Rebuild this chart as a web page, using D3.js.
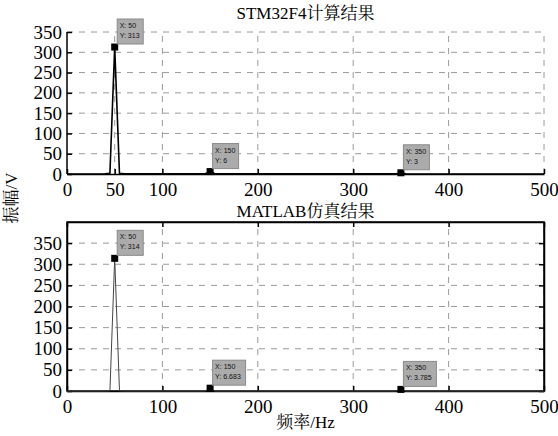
<!DOCTYPE html>
<html><head><meta charset="utf-8">
<script src="https://cdn.jsdelivr.net/npm/d3@7"></script>
<style>
body{margin:0;background:#fff;}
svg{display:block;}
</style></head>
<body>
<svg id="c" width="558" height="436"></svg>
<script>
// ---- data ----
const freqs = [0, 40, 45, 50, 55, 60, 145, 150, 155, 345, 350, 355, 500];
const ampSTM = [0, 0.5, 2, 313, 2, 0.5, 0.5, 6, 0.5, 0.5, 3, 0.5, 0];
const ampMATLAB = [0, 0, 0.5, 314, 0.5, 0, 0, 6.683, 0, 0, 3.785, 0, 0];
const tipsSTM = [{x:50,y:313,label:"313"},{x:150,y:6,label:"6"},{x:350,y:3,label:"3"}];
const tipsMATLAB = [{x:50,y:314,label:"314"},{x:150,y:6.683,label:"6.683"},{x:350,y:3.785,label:"3.785"}];
const xTicksTop = [0, 50, 100, 200, 300, 400, 500];
const xTicksBottom = [0, 100, 200, 300, 400, 500];
const yTicks = [0, 50, 100, 150, 200, 250, 300, 350];
const titles = ["STM32F4计算结果", "MATLAB仿真结果"];
const xLabel = "频率/Hz";
const yLabel = "振幅/V";

const svg = d3.select("#c");
const serif = "'Liberation Serif','Times New Roman','Noto Serif CJK SC','Noto Sans CJK SC',serif";
const L = 67, R = 544;

function panel(cfg){
  const x = d3.scaleLinear().domain([0,500]).range([L,R]);
  const y = d3.scaleLinear().domain([0,cfg.ymax]).range([cfg.bottom,cfg.top]);
  const g = svg.append("g");
  // grid
  g.append("g").selectAll("line").data(cfg.xTicks.filter(d=>d>0)).join("line")
    .attr("x1",d=>x(d)).attr("x2",d=>x(d)).attr("y1",cfg.bottom).attr("y2",cfg.top)
    .attr("stroke","#9a9a9a").attr("stroke-width",1).attr("stroke-dasharray","6,6");
  g.append("g").selectAll("line").data(yTicks.filter(d=>d>0)).join("line")
    .attr("x1",L).attr("x2",R).attr("y1",d=>y(d)).attr("y2",d=>y(d))
    .attr("stroke","#9a9a9a").attr("stroke-width",1).attr("stroke-dasharray","6,6");
  // axes
  const ax = g.append("g").attr("transform",`translate(0,${cfg.bottom})`)
    .call(d3.axisBottom(x).tickValues(cfg.xTicks).tickSize(-5).tickPadding(9).tickSizeOuter(0));
  const ay = g.append("g").attr("transform",`translate(${L},0)`)
    .call(d3.axisLeft(y).tickValues(yTicks).tickSize(-5).tickPadding(5).tickSizeOuter(0));
  if(cfg.box){
    g.append("g").attr("transform",`translate(0,${cfg.top})`)
      .call(d3.axisTop(x).tickValues(cfg.xTicks).tickSize(-5).tickFormat("").tickSizeOuter(0));
    g.append("g").attr("transform",`translate(${R},0)`)
      .call(d3.axisRight(y).tickValues(yTicks).tickSize(-5).tickFormat("").tickSizeOuter(0));
    g.append("rect").attr("x",L).attr("y",cfg.top).attr("width",R-L).attr("height",cfg.bottom-cfg.top)
      .attr("fill","none").attr("stroke","#000").attr("stroke-width",1.5);
  } else {
    ay.select(".domain").attr("d",`M0,${cfg.bottom}V${cfg.top}`);
  }
  g.selectAll(".domain").attr("stroke","#000").attr("stroke-width",1.5);
  g.selectAll(".tick line").attr("stroke","#000").attr("stroke-width",1.5);
  g.selectAll(".tick text").attr("font-family",serif).attr("font-size",19).attr("fill","#000");
  // line
  const line = d3.line().x((d,i)=>x(freqs[i])).y(d=>y(d));
  g.append("path").datum(cfg.amps).attr("d",line).attr("fill","none")
    .attr("stroke",cfg.lineColor).attr("stroke-width",cfg.lineWidth).attr("stroke-linejoin","round");
  // markers and tips
  const tg = g.append("g").selectAll("g").data(cfg.tips).join("g")
    .attr("transform",d=>`translate(${x(d.x)},${y(d.y)})`);
  tg.append("rect").attr("x",-3.5).attr("y",-3.5).attr("width",7).attr("height",7).attr("fill","#000");
  tg.each(function(d){
    const s = d3.select(this);
    const t1 = "X: "+d.x, t2 = "Y: "+d.label;
    const w = Math.max(t1.length,t2.length)*3.5+5;
    s.append("rect").attr("x",2.5).attr("y",-28).attr("width",w).attr("height",25)
      .attr("fill","#ababab").attr("stroke","#8a8a8a").attr("stroke-width",1);
    s.append("text").attr("x",5).attr("y",-19).text(t1)
      .attr("font-family","'Liberation Sans',Arial,sans-serif").attr("font-size",7).attr("fill","#111");
    s.append("text").attr("x",5).attr("y",-9).text(t2)
      .attr("font-family","'Liberation Sans',Arial,sans-serif").attr("font-size",7).attr("fill","#111");
  });
  // title
  svg.append("text").attr("x",(L+R)/2).attr("y",cfg.titleY).attr("text-anchor","middle")
    .attr("font-family",serif).attr("font-size",17).attr("fill","#000").text(cfg.title);
}

panel({top:32,bottom:174,ymax:350,xTicks:xTicksTop,box:false,amps:ampSTM,tips:tipsSTM,
  lineColor:"#000",lineWidth:1.6,title:titles[0],titleY:19});
panel({top:222,bottom:391,ymax:400,xTicks:xTicksBottom,box:true,amps:ampMATLAB,tips:tipsMATLAB,
  lineColor:"#444",lineWidth:1,title:titles[1],titleY:217});

svg.append("text").attr("x",(L+R)/2).attr("y",428).attr("text-anchor","middle")
  .attr("font-family",serif).attr("font-size",17).attr("fill","#000").text(xLabel);
svg.append("text").attr("transform","translate(17,198) rotate(-90)").attr("text-anchor","middle")
  .attr("font-family",serif).attr("font-size",17).attr("fill","#000").text(yLabel);
</script>
</body></html>
